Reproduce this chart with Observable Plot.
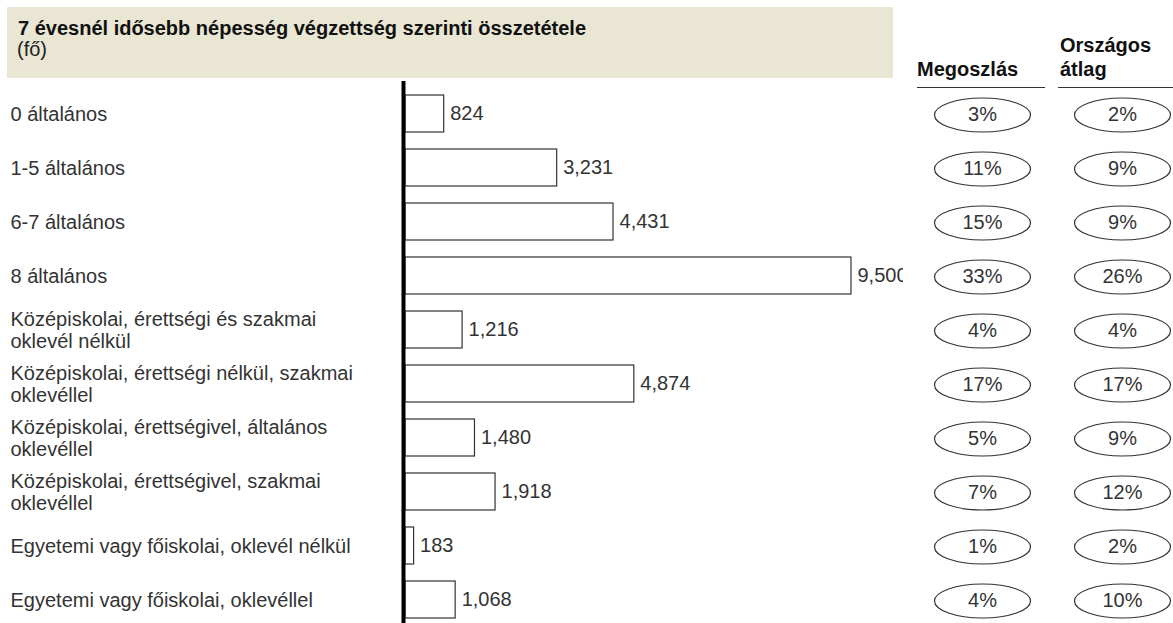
<!DOCTYPE html>
<html>
<head>
<meta charset="utf-8">
<script src="https://cdn.jsdelivr.net/npm/d3@7"></script>
<script src="https://cdn.jsdelivr.net/npm/@observablehq/plot@0.6"></script>
<style>
  html, body { margin: 0; padding: 0; background: white; }
  #wrap { position: relative; width: 1173px; height: 623px; overflow: hidden; font-family: "Liberation Sans", Arial, sans-serif; }
  #wrap svg { position: absolute; left: 0; top: 0; }
  .abs { position: absolute; white-space: nowrap; font-size: 20px; line-height: 20px; }
  #titlebox { position: absolute; left: 7px; top: 7px; width: 886px; height: 71px; background: #e9e6d3; }
  .hdr { font-weight: bold; color: #111; }
  .hline { position: absolute; height: 0; border-top: 1.5px solid #333; }
</style>
</head>
<body>
<div id="wrap">
  <div id="chart"></div>
  <div id="titlebox"></div>
  <div class="abs hdr" id="title" style="left:18px; top:18px;"></div>
  <div class="abs" id="unit" style="left:17px; top:39px; color:#222;"></div>
  <div class="abs hdr" id="h1" style="left:917px; top:59px;"></div>
  <div class="abs hdr" id="h2a" style="left:1060px; top:35px;"></div>
  <div class="abs hdr" id="h2b" style="left:1060px; top:59px;"></div>
  <div class="hline" style="left:917px; top:87px; width:128px;"></div>
  <div class="hline" style="left:1058px; top:87px; width:115px;"></div>
</div>
<script>
const title = "7 évesnél idősebb népesség végzettség szerinti összetétele";
const unit = "(fő)";
const header1 = "Megoszlás";
const header2 = ["Országos", "átlag"];

const categories = [
  "0 általános",
  "1-5 általános",
  "6-7 általános",
  "8 általános",
  "Középiskolai, érettségi és szakmai oklevél nélkül",
  "Középiskolai, érettségi nélkül, szakmai oklevéllel",
  "Középiskolai, érettségivel, általános oklevéllel",
  "Középiskolai, érettségivel, szakmai oklevéllel",
  "Egyetemi vagy főiskolai, oklevél nélkül",
  "Egyetemi vagy főiskolai, oklevéllel"
];
const tickLabels = [
  "0 általános",
  "1-5 általános",
  "6-7 általános",
  "8 általános",
  "Középiskolai, érettségi és szakmai\noklevél nélkül",
  "Középiskolai, érettségi nélkül, szakmai\noklevéllel",
  "Középiskolai, érettségivel, általános\noklevéllel",
  "Középiskolai, érettségivel, szakmai\noklevéllel",
  "Egyetemi vagy főiskolai, oklevél nélkül",
  "Egyetemi vagy főiskolai, oklevéllel"
];
const counts = [824, 3231, 4431, 9500, 1216, 4874, 1480, 1918, 183, 1068];
const share = [3, 11, 15, 33, 4, 17, 5, 7, 1, 4];
const national = [2, 9, 9, 26, 4, 17, 9, 12, 2, 10];

document.getElementById("title").textContent = title;
document.getElementById("unit").textContent = unit;
document.getElementById("h1").textContent = header1;
document.getElementById("h2a").textContent = header2[0];
document.getElementById("h2b").textContent = header2[1];

const data = categories.map((c, i) => ({
  cat: c, label: tickLabels[i], value: counts[i], share: share[i], national: national[i]
}));

const RX = 48, RY = 17;
const K = 0.5523;
const ellipse = {
  draw(context) {
    context.moveTo(-RX, 0);
    context.bezierCurveTo(-RX, -RY * K, -RX * K, -RY, 0, -RY);
    context.bezierCurveTo(RX * K, -RY, RX, -RY * K, RX, 0);
    context.bezierCurveTo(RX, RY * K, RX * K, RY, 0, RY);
    context.bezierCurveTo(-RX * K, RY, -RX, RY * K, -RX, 0);
    context.closePath();
  }
};

const fmt = d3.format(",");
const col1 = 79, col2 = 219; // offsets from frame right edge

const chart = Plot.plot({
  width: 1173,
  height: 623,
  marginLeft: 0,
  marginRight: 270,
  marginTop: 81,
  marginBottom: 0,
  style: { fontFamily: "'Liberation Sans', Arial, sans-serif", fontSize: "20px", background: "transparent", color: "#333" },
  x: { domain: [0, 9500], range: [405, 851], axis: null },
  y: { domain: categories, range: [83, 629], paddingInner: 0.32, paddingOuter: 0.16, axis: null },
  marks: [
    Plot.barX(data, { x: "value", y: "cat", fill: "white", stroke: "#333", strokeWidth: 1.2 }),
    Plot.ruleX([0], { stroke: "black", strokeWidth: 4, dx: -2 }),
    Plot.text(data, { x: "value", y: "cat", text: d => fmt(d.value), textAnchor: "start", dx: 6, fill: "#333", clip: true }),
    Plot.text(data, { y: "cat", text: "label", frameAnchor: "left", textAnchor: "start", dx: 10, lineHeight: 1.1, fill: "#333" }),
    Plot.dot(data, { y: "cat", frameAnchor: "right", dx: col1, dy: 1, symbol: ellipse, fill: "white", stroke: "#333", strokeWidth: 1.2 }),
    Plot.dot(data, { y: "cat", frameAnchor: "right", dx: col2, dy: 1, symbol: ellipse, fill: "white", stroke: "#333", strokeWidth: 1.2 }),
    Plot.text(data, { y: "cat", frameAnchor: "right", dx: col1, dy: 1, text: d => d.share + "%", textAnchor: "middle", fill: "#333" }),
    Plot.text(data, { y: "cat", frameAnchor: "right", dx: col2, dy: 1, text: d => d.national + "%", textAnchor: "middle", fill: "#333" })
  ]
});
document.getElementById("chart").appendChild(chart);
</script>
</body>
</html>
